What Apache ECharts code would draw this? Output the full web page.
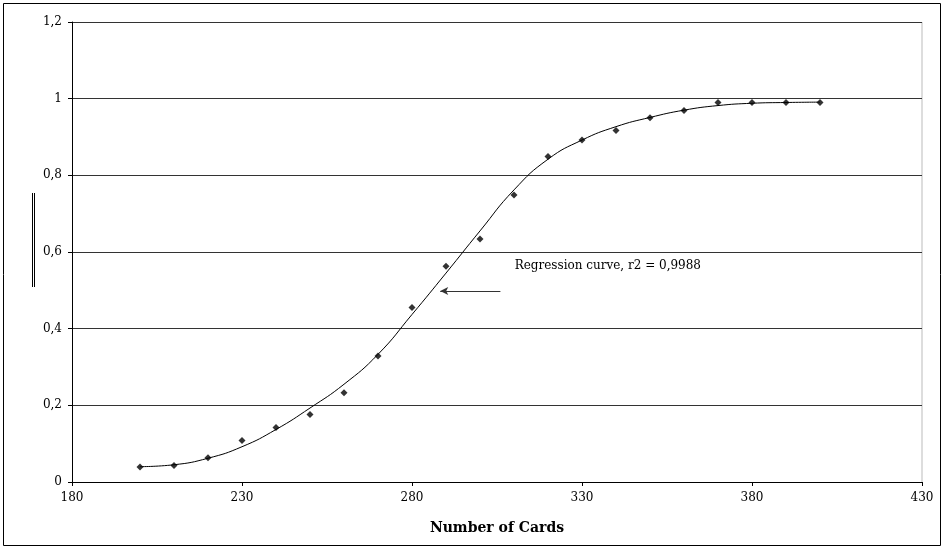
<!DOCTYPE html>
<html>
<head>
<meta charset="utf-8">
<script src="https://cdn.jsdelivr.net/npm/echarts@6/dist/echarts.min.js"></script>
<style>
  html, body { margin: 0; padding: 0; background: #fff; }
  #chart { width: 942px; height: 549px; }
</style>
</head>
<body>
<div id="chart"></div>
<script>
const cards = [200, 210, 220, 230, 240, 250, 260, 270, 280, 290, 300, 310, 320, 330, 340, 350, 360, 370, 380, 390, 400];
const observed = [0.039, 0.043, 0.063, 0.108, 0.142, 0.176, 0.233, 0.329, 0.455, 0.563, 0.634, 0.749, 0.849, 0.892, 0.917, 0.950, 0.969, 0.990, 0.990, 0.990, 0.990];
const fitted = [0.040, 0.045, 0.062, 0.092, 0.137, 0.193, 0.255, 0.333, 0.437, 0.545, 0.655, 0.762, 0.842, 0.892, 0.927, 0.951, 0.970, 0.982, 0.988, 0.990, 0.991];
const note = 'Regression curve, r2 = 0,9988';

const chart = echarts.init(document.getElementById('chart'));
const font = '"DejaVu Serif", "Liberation Serif", serif';

chart.setOption({
  animation: false,
  textStyle: { fontFamily: font },
  grid: { left: 72, right: 20, top: 22, bottom: 67 },
  xAxis: {
    type: 'value', min: 180, max: 430, interval: 50,
    name: 'Number of Cards', nameLocation: 'middle', nameGap: 39,
    nameTextStyle: { fontFamily: font, fontWeight: 'bold', fontSize: 14, color: '#000' },
    axisLine: { lineStyle: { color: '#000', width: 1 } },
    axisTick: { show: true, length: 4, lineStyle: { color: '#000' } },
    axisLabel: { color: '#000', fontSize: 12, margin: 10 },
    splitLine: { show: false }
  },
  yAxis: {
    type: 'value', min: 0, max: 1.2, interval: 0.2,
    axisLine: { show: true, lineStyle: { color: '#000', width: 1 } },
    axisTick: { show: true, length: 4, lineStyle: { color: '#000' } },
    axisLabel: {
      color: '#000', fontSize: 12, margin: 10,
      formatter: v => String(Math.round(v * 10) / 10).replace('.', ',')
    },
    splitLine: { show: true, lineStyle: { color: '#333', width: 1 } }
  },
  series: [
    {
      type: 'line',
      data: cards.map((c, i) => [c, fitted[i]]),
      smooth: true,
      showSymbol: false,
      lineStyle: { color: '#000', width: 1 },
      markLine: {
        silent: true,
        symbol: ['none', 'arrow'],
        symbolSize: [6, 8],
        lineStyle: { color: '#333', width: 1, type: 'solid' },
        label: { show: false },
        data: [[{ coord: [306, 0.498] }, { coord: [288.3, 0.498] }]]
      },
      markPoint: {
        silent: true,
        symbol: 'circle', symbolSize: 0,
        label: {
          show: true, position: 'right', distance: 0,
          color: '#000', fontSize: 12, fontFamily: font,
          formatter: note
        },
        data: [{ coord: [310.2, 0.563] }]
      }
    },
    {
      type: 'scatter',
      data: cards.map((c, i) => [c, observed[i]]),
      symbol: 'diamond',
      symbolSize: 7,
      itemStyle: { color: '#000' }
    }
  ],
  graphic: [
    { type: 'rect', shape: { x: 3.5, y: 3.5, width: 937, height: 542 }, style: { fill: 'none', stroke: '#000', lineWidth: 1 } },
    { type: 'line', shape: { x1: 922, y1: 22, x2: 922, y2: 482 }, style: { stroke: '#bbb', lineWidth: 1 } },
    { type: 'line', shape: { x1: 32.5, y1: 193, x2: 32.5, y2: 287 }, style: { stroke: '#000', lineWidth: 1 } },
    { type: 'line', shape: { x1: 34.5, y1: 193, x2: 34.5, y2: 287 }, style: { stroke: '#000', lineWidth: 1 } }
  ]
});
</script>
</body>
</html>
